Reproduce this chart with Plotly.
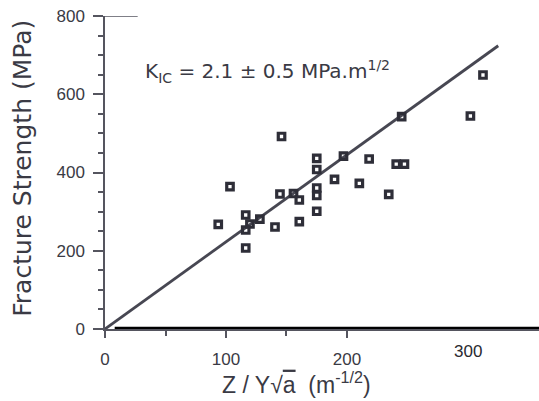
import plotly.graph_objects as go

# Data
z_over_y_sqrt_a = [93.6, 103.3, 116.3, 116.3, 116.3, 119.8, 128.0, 140.5, 144.6, 145.9,
                   155.8, 160.6, 160.6, 175.0, 175.0, 175.0, 175.0, 175.0, 189.7, 197.1,
                   210.2, 218.3, 234.5, 240.7, 247.5, 245.2, 302.0, 312.4]
fracture_strength = [267.6, 363.7, 291.4, 253.0, 207.0, 268.4, 281.0, 260.7, 345.0, 492.0,
                     346.3, 329.7, 274.2, 436.3, 407.7, 360.4, 341.2, 301.0, 382.6, 442.0,
                     372.4, 434.5, 344.3, 421.2, 421.2, 542.6, 544.4, 649.2]

fit_x = [0, 325]
fit_y = [0, 724]

y_tick_vals = [0, 200, 400, 600, 800]
x_tick_vals = [0, 100, 200]
x_minor_vals = [50, 150]
x_tick_extra = [300]

ink = "#3a3a44"
axis_col = "#55555f"
mark_col = "#2e2e38"

fig = go.Figure()
fig.add_trace(go.Scatter(x=fit_x, y=fit_y, mode="lines",
                         line=dict(color="#474752", width=2.8),
                         cliponaxis=False, showlegend=False, hoverinfo="skip"))
fig.add_trace(go.Scatter(x=z_over_y_sqrt_a, y=fracture_strength, mode="markers",
                         marker=dict(symbol="square-open", size=6.5, color=mark_col,
                                     line=dict(width=3.2, color=mark_col)),
                         showlegend=False))

fig.update_layout(
    width=539, height=401,
    margin=dict(l=105, r=0, t=16, b=72),
    paper_bgcolor="white", plot_bgcolor="white",
    font=dict(family="Liberation Sans, Arial, sans-serif", color=ink),
    xaxis=dict(range=[0, 358.7], showgrid=False, zeroline=False,
               showline=True, linecolor=axis_col, linewidth=1.5,
               ticks="outside", ticklen=7, tickwidth=1.5, tickcolor=axis_col,
               tickvals=x_tick_vals, ticktext=[str(v) for v in x_tick_vals],
               tickfont=dict(size=17, color=ink), ticklabelstandoff=7,
               minor=dict(tickvals=x_minor_vals, ticks="outside", ticklen=5, tickwidth=1.5,
                          tickcolor=axis_col)),
    yaxis=dict(range=[0, 800], showgrid=False, zeroline=False,
               showline=True, linecolor=axis_col, linewidth=1.5,
               ticks="outside", ticklen=10, tickwidth=1.5, tickcolor=axis_col,
               tickvals=y_tick_vals, ticktext=[str(v) for v in y_tick_vals],
               tickfont=dict(size=17, color=ink), ticklabelstandoff=5,
               minor=dict(dtick=50, ticks="outside", ticklen=5, tickwidth=1.5,
                          tickcolor=axis_col)),
)

# thick bottom rule and top cap line
fig.add_shape(type="line", xref="x", yref="y", x0=8, x1=358.7, y0=0, y1=0,
              line=dict(color="black", width=4.5), layer="above")
fig.add_shape(type="line", xref="x", yref="y", x0=0, x1=27, y0=800, y1=800,
              line=dict(color=axis_col, width=1.5), layer="above")

for v in x_tick_extra:
    fig.add_annotation(x=v, y=-0.035, xref="x", yref="paper", text=str(v),
                       showarrow=False, yanchor="top", xanchor="center",
                       font=dict(size=17, color="#2a2a30", family="Liberation Sans, Arial, sans-serif"))

fig.add_annotation(x=31.4, y=657, xref="x", yref="y", xanchor="left", yanchor="middle",
                   text="K<sub>IC</sub> = 2.1 ± 0.5 MPa.m<sup>1/2</sup>", showarrow=False,
                   font=dict(size=20, color=ink, family="DejaVu Sans, sans-serif"))

fig.add_annotation(x=-0.189, y=0.515, xref="paper", yref="paper", textangle=-90,
                   xanchor="center", yanchor="middle", text="Fracture Strength (MPa)",
                   showarrow=False, font=dict(size=25, color=ink, family="DejaVu Sans, sans-serif"))

fig.add_annotation(x=158, y=-0.227, xref="x", yref="paper", xanchor="center", yanchor="bottom",
                   text="Z / Y√<span style='text-decoration:overline'>a</span>  (m<sup>-1/2</sup>)",
                   showarrow=False, font=dict(size=23, color=ink, family="Liberation Sans, Arial, sans-serif"))

fig.write_html("out.html")
